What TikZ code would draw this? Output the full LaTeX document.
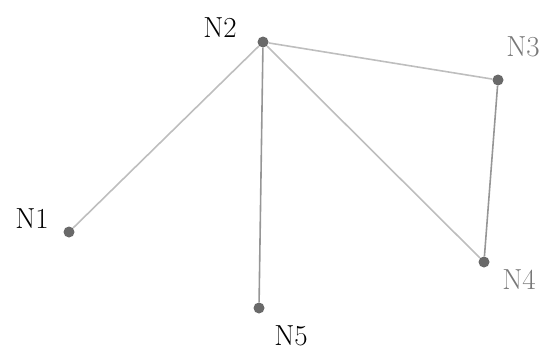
\documentclass[tikz,border=0pt]{standalone}
\usepackage{fontspec}
\usepackage{tikz}
\usetikzlibrary{positioning}
\definecolor{dotgray}{RGB}{105,105,105}
\definecolor{edgegray}{RGB}{190,190,190}
\definecolor{edgedark}{RGB}{150,150,150}
\definecolor{labgray}{RGB}{120,120,120}
\tikzset{
  vtx/.style={draw=none, circle, fill=dotgray, minimum size=11pt, inner sep=0pt},
  lab/.style={font=\fontsize{29}{32}\selectfont, inner sep=0pt},
  glab/.style={lab, text=labgray},
  edge/.style={draw=edgegray, line width=1.6pt},
  dedge/.style={draw=edgedark, line width=1.6pt},
}
\begin{document}
\begin{tikzpicture}[x=1pt,y=-1pt]
\useasboundingbox (0,0) rectangle (544,351);

\node[vtx] (n1) at (69,232) {};
\node[vtx] (n2) at (263,42) {};
\node[vtx] (n3) at (498,80) {};
\node[vtx] (n4) at (484,262) {};
\node[vtx] (n5) at (259,308) {};

\node[lab] (l1) at (32,219) {N1};
\node[lab] (l2) at (220,28) {N2};
\node[glab] (l3) at (523,47) {N3};
\node[glab] (l4) at (519,280) {N4};
\node[lab] (l5) at (291,336) {N5};

\draw[edge] (n2) -- (n1);
\draw[dedge] (n2) -- (n5);
\draw[edge] (n2) -- (n3);
\draw[edge] (n2) -- (n4);
\draw[dedge] (n3) -- (n4);

\end{tikzpicture}
\end{document}
